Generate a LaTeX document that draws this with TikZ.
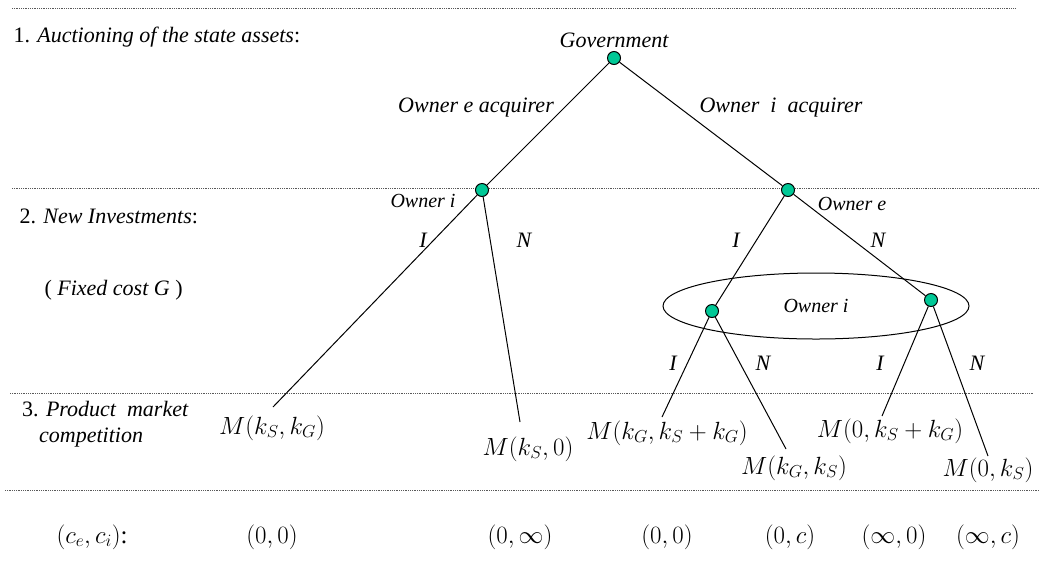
\documentclass[tikz,border=0pt]{standalone}
\usepackage{fontspec}
\setmainfont{Liberation Serif}
\usepackage{tikz}
\usetikzlibrary{shapes.geometric,positioning}
\definecolor{movegreen}{RGB}{0,200,150}

\begin{document}
\begin{tikzpicture}[x=1pt, y=-1pt, font=\fontsize{22}{26}\selectfont]
  \useasboundingbox (0,0) rectangle (1040,574);
  \tikzset{move/.style={circle, draw=black, fill=movegreen, line width=1pt, inner sep=0pt, minimum size=13pt},
    stage/.style={gray!70!black, line width=0.7pt, dash pattern=on 0.8pt off 1pt},
    branch/.style={line width=1pt},
    who/.style={font=\fontsize{20}{24}\selectfont\itshape, inner sep=1pt},
    act/.style={font=\fontsize{22}{26}\selectfont\itshape, inner sep=1pt},
    pay/.style={font=\fontsize{23}{27}\selectfont, inner sep=1pt}}
  % ---- stage separators ----
  \draw[stage] (12,8) -- (1015,8);
  \draw[stage] (12,188) -- (1040,188);
  \draw[stage] (10,393) -- (1034,393);
  \draw[stage] (5,490) -- (1040,490);
  % ---- stage names ----
  \node[anchor=west] (s1) at (10,37) {1. \textit{Auctioning of the state assets}:};
  \node[anchor=west] (s2) at (16,216) {2. \textit{New Investments}:};
  \node[anchor=west] (s2b) at (41,290) {( \textit{Fixed cost G} )};
  \node[anchor=north west, align=left, inner sep=0pt] (s3) at (22,401)
    {3. \textit{Product\ \ market}\\\hspace{17pt}\textit{competition}};
  \node[anchor=west, font=\fontsize{25}{29}\selectfont] (s4) at (53,537) {$(c_e,c_i)$:};
  % ---- game tree ----
  \node[move] (gov) at (614,58) {};
  \node[move] (oi) at (482,190) {};
  \node[move] (oe) at (788,190) {};
  \node[ellipse, draw, line width=1pt, minimum width=306pt, minimum height=66pt,
    font=\fontsize{20}{24}\selectfont\itshape] (info) at (816,306) {Owner i};
  \node[move] (ia) at (712,311) {};
  \node[move] (ib) at (931,300) {};
  \node[anchor=south, font=\fontsize{22}{26}\selectfont\itshape] (govl) at (gov.north) {Government};
  \node[who] (oil) at (423,201) {Owner i};
  \node[who] (oel) at (852,204) {Owner e};
  \node[font=\fontsize{22}{26}\selectfont\itshape] (gl) at (476,108) {Owner e acquirer};
  \node[font=\fontsize{22}{26}\selectfont\itshape] (gr) at (781,108) {Owner\ \ i\ \ acquirer};
  \coordinate (t1) at (273,407);
  \coordinate (t2) at (520,422);
  \coordinate (t3) at (662,417);
  \coordinate (t4) at (786,449);
  \coordinate (t5) at (882,416);
  \coordinate (t6) at (988,456);
  \draw[branch] (gov) -- (oi);
  \draw[branch] (gov) -- (oe);
  \draw[branch] (oi) -- (t1);
  \draw[branch] (oi) -- (t2);
  \draw[branch] (oe) -- (ia);
  \draw[branch] (oe) -- (ib);
  \draw[branch] (ia) -- (t3);
  \draw[branch] (ia) -- (t4);
  \draw[branch] (ib) -- (t5);
  \draw[branch] (ib) -- (t6);
  % ---- investment choices ----
  \foreach \n/\x/\y/\t in {a1/423/240/I, a2/524/240/N, a3/736/240/I, a4/878/240/N,
    a5/673/363/I, a6/763/363/N, a7/880/363/I, a8/977/363/N}
    \node[act] (\n) at (\x,\y) {\t};
  % ---- outcomes ----
  \node[pay] (m1) at (272,428) {$M(k_S,k_G)$};
  \node[pay] (m2) at (528,449) {$M(k_S,0)$};
  \node[pay] (m3) at (667,433) {$M(k_G,k_S+k_G)$};
  \node[pay] (m4) at (794,468) {$M(k_G,k_S)$};
  \node[pay] (m5) at (890,431) {$M(0,k_S+k_G)$};
  \node[pay] (m6) at (988,470) {$M(0,k_S)$};
  \foreach \n/\x/\t in {c1/272/{(0,0)}, c2/520/{(0,\infty)}, c3/667/{(0,0)},
    c4/790/{(0,c)}, c5/894/{(\infty,0)}, c6/988/{(\infty,c)}}
    \node[font=\fontsize{23}{27}\selectfont] (\n) at (\x,537) {$\t$};
\end{tikzpicture}
\end{document}
